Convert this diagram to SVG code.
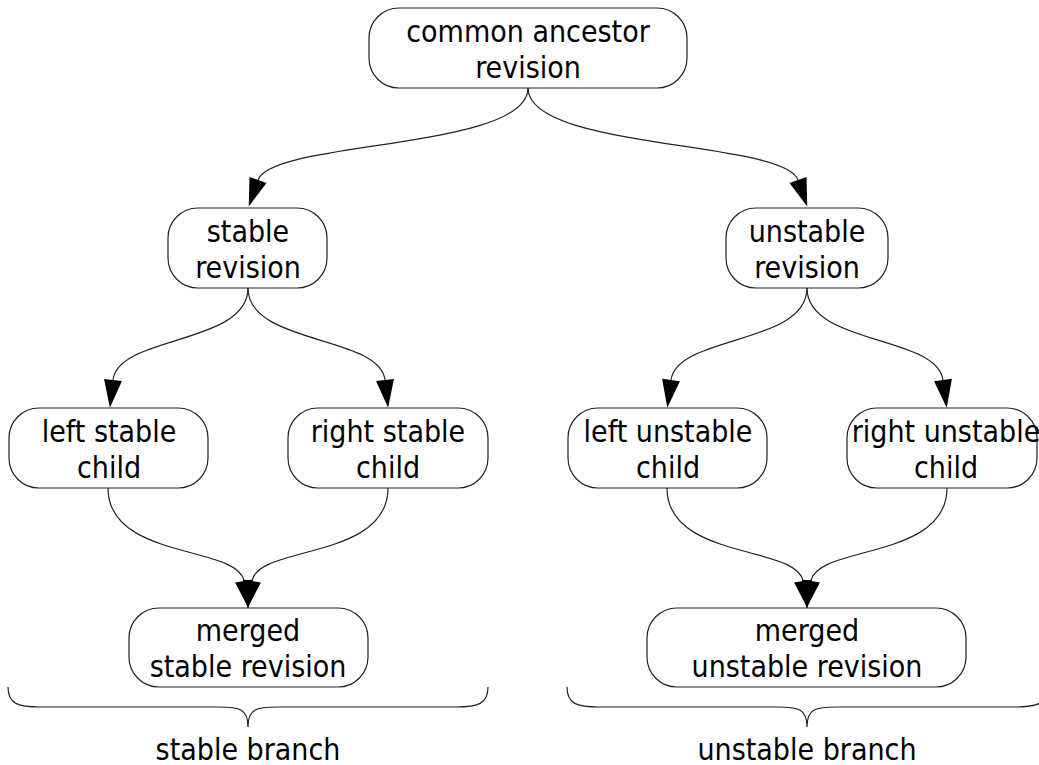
<svg xmlns="http://www.w3.org/2000/svg" width="1039" height="765" viewBox="0 0 1039 765">
<style>
.node rect{fill:#fff;stroke:#222;stroke-width:1.2}
.node text,.label{font-family:"DejaVu Sans Condensed","DejaVu Sans",sans-serif;font-stretch:condensed;font-size:30px;fill:#000;text-anchor:middle}
.edge{fill:none;stroke:#222;stroke-width:1.2;marker-end:url(#arr)}
.brace{fill:none;stroke:#222;stroke-width:1.2}
</style>
<defs>
<marker id="arr" markerUnits="userSpaceOnUse" markerWidth="28" markerHeight="18" refX="0" refY="9" orient="auto" overflow="visible">
<path d="M0,0 L28,9 L0,18 z" fill="#000"/>
</marker>
</defs>
<rect width="1039" height="765" fill="#fff"/>
<g id="connectors">
<path class="edge" d="M528,88 C528,150 272,140 258,180"/>
<path class="edge" d="M528,88 C528,150 784,140 798,180"/>
<path class="edge" d="M248,288 C248,345 118,335 113,380"/>
<path class="edge" d="M248,288 C248,345 380,335 385,380"/>
<path class="edge" d="M807,288 C807,345 677,335 671,380"/>
<path class="edge" d="M807,288 C807,345 937,335 943,380"/>
<path class="edge" d="M108,488 C108,560 238,545 244,581"/>
<path class="edge" d="M388,488 C388,560 258,545 252,581"/>
<path class="edge" d="M667,488 C667,560 797,545 803,581"/>
<path class="edge" d="M947,488 C947,560 817,545 811,581"/>
</g>
<g id="n_common" class="node"><rect x="369" y="8" width="318" height="80" rx="30"/><text x="528" y="42">common ancestor</text><text x="528" y="78">revision</text></g>
<g id="n_stable" class="node"><rect x="168" y="208" width="159" height="80" rx="30"/><text x="248" y="242">stable</text><text x="248" y="278">revision</text></g>
<g id="n_unstable" class="node"><rect x="726" y="208" width="162" height="80" rx="30"/><text x="807" y="242">unstable</text><text x="807" y="278">revision</text></g>
<g id="n_lsc" class="node"><rect x="9" y="408" width="199" height="80" rx="30"/><text x="109" y="442">left stable</text><text x="109" y="478">child</text></g>
<g id="n_rsc" class="node"><rect x="288" y="408" width="200" height="80" rx="30"/><text x="388" y="442">right stable</text><text x="388" y="478">child</text></g>
<g id="n_luc" class="node"><rect x="568" y="408" width="199" height="80" rx="30"/><text x="668" y="442">left unstable</text><text x="668" y="478">child</text></g>
<g id="n_ruc" class="node"><rect x="847" y="408" width="190" height="80" rx="30"/><text x="946" y="442">right unstable</text><text x="946" y="478">child</text></g>
<g id="n_ms" class="node"><rect x="129" y="608" width="239" height="79" rx="30"/><text x="248" y="641">merged</text><text x="248" y="677">stable revision</text></g>
<g id="n_mu" class="node"><rect x="647" y="608" width="319" height="79" rx="30"/><text x="807" y="641">merged</text><text x="807" y="677">unstable revision</text></g>
<g id="b_stable">
<path class="brace" d="M8,687 C8,704 18,707 40,707 L218,707 C240,707 248,709 248,727 C248,709 256,707 278,707 L456,707 C478,707 488,704 488,687"/>
<text class="label" x="248" y="760">stable branch</text>
</g>
<g id="b_unstable">
<path class="brace" d="M567,687 C567,704 577,707 599,707 L777,707 C799,707 807,709 807,727 C807,709 815,707 837,707 L1015,707 C1037,707 1047,704 1047,687"/>
<text class="label" x="807" y="760">unstable branch</text>
</g>
</svg>
